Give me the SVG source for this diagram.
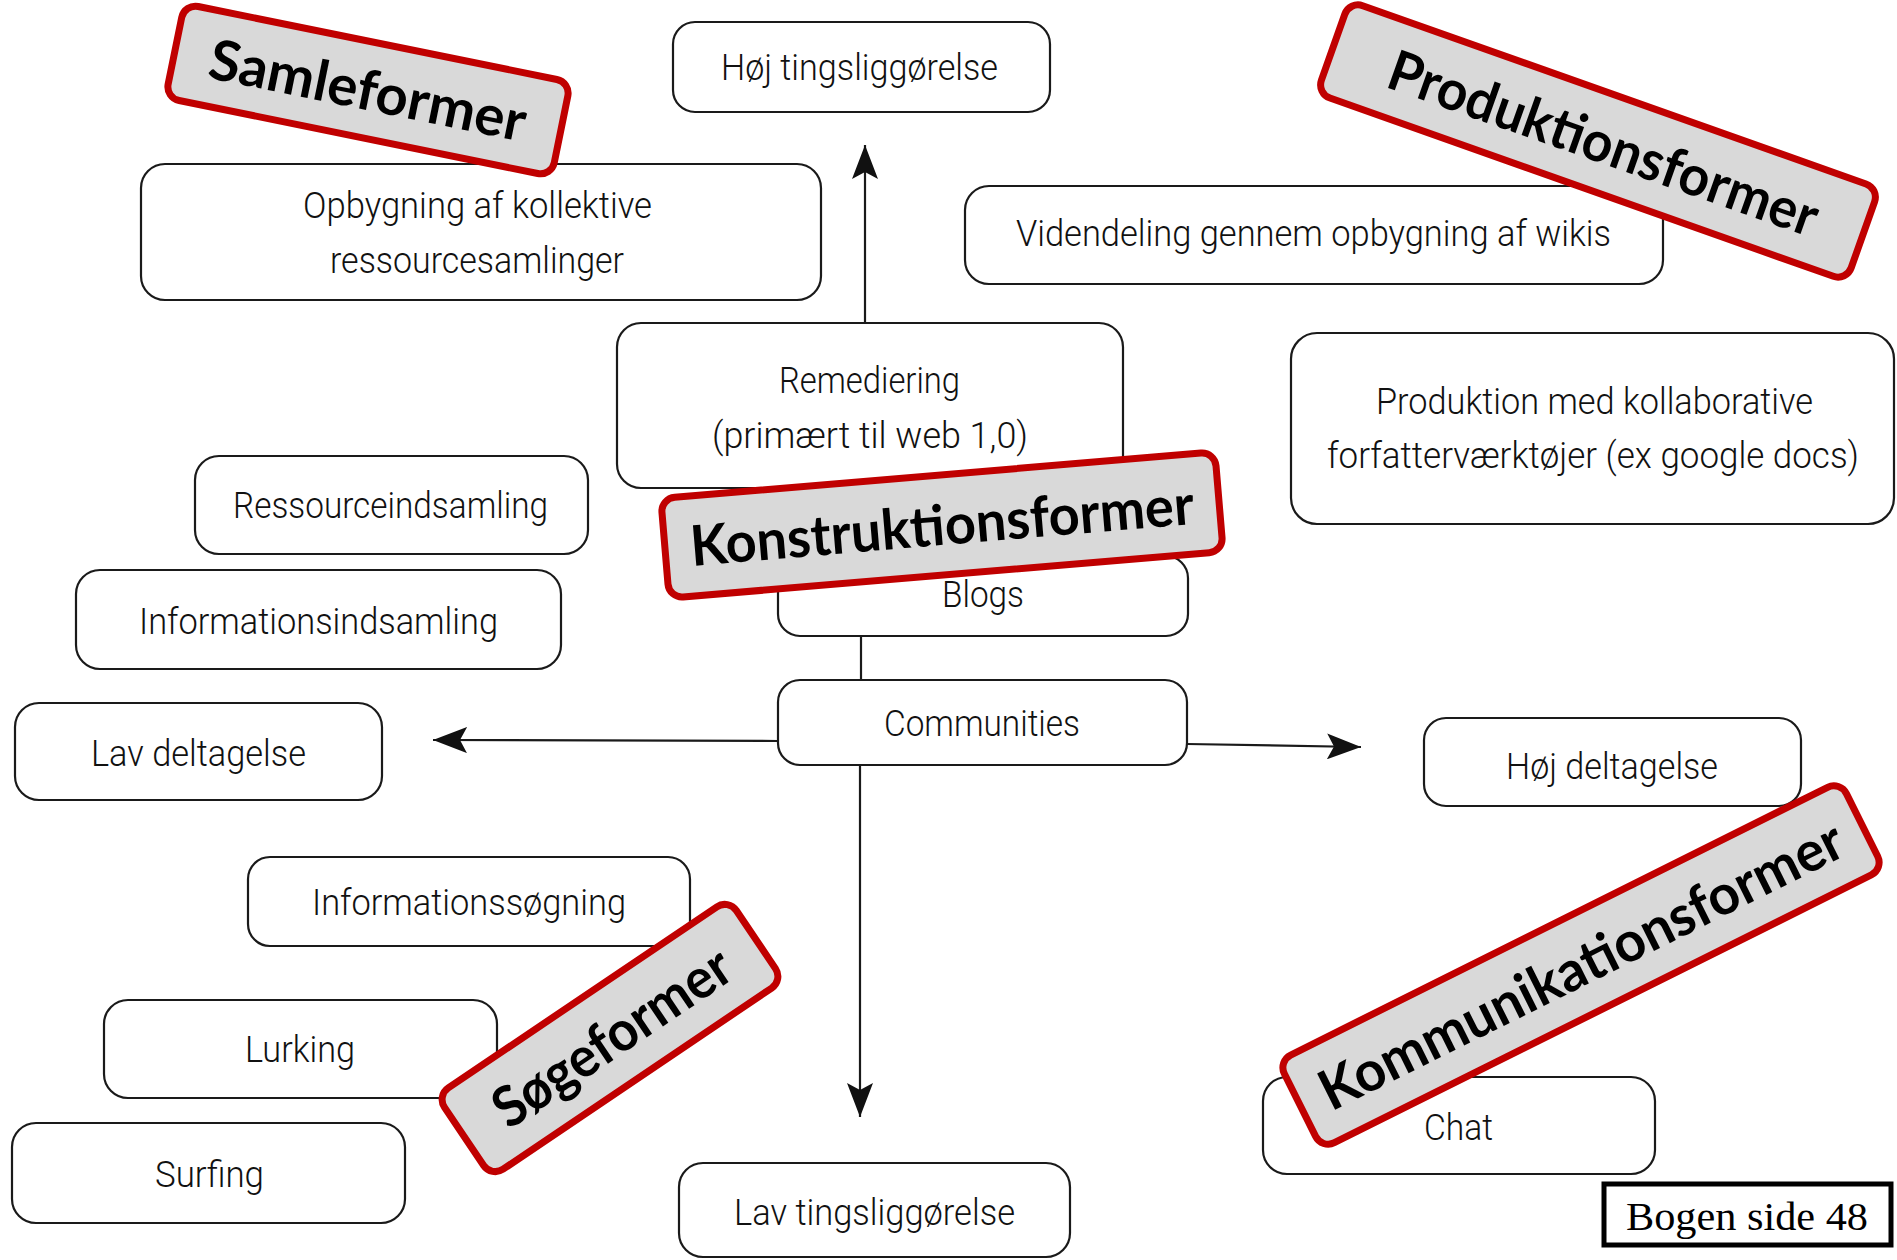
<svg xmlns="http://www.w3.org/2000/svg" width="1897" height="1260" viewBox="0 0 1897 1260">
<defs>
<style>
.node rect{fill:#fff;stroke:#1a1a1a;stroke-width:2.2}
.node text{font-family:Roboto,"DejaVu Sans Condensed","Liberation Sans",sans-serif;font-weight:300;font-size:36px;fill:#111;text-anchor:start}
.conn path{fill:none;stroke:#1a1a1a;stroke-width:2.2}
.badge rect{fill:#d9d9d9;stroke:#c00000;stroke-width:7}
.badge text{font-family:Lato,"Open Sans","Liberation Sans",sans-serif;font-weight:bold;font-size:56px;fill:#000;text-anchor:middle}
</style>
<marker id="arr" markerUnits="userSpaceOnUse" markerWidth="36" markerHeight="26" refX="34" refY="13" orient="auto">
<path d="M0,0 L34,13 L0,26 L7,13 Z" fill="#111"/>
</marker>
</defs>
<rect width="1897" height="1260" fill="#fff"/>

<g id="connectors" class="conn">
<path d="M865,323 L865,145" marker-end="url(#arr)"/>
<path d="M861,636 L861,680"/>
<path d="M860,765 L860,1117" marker-end="url(#arr)"/>
<path d="M778,741 L433,740" marker-end="url(#arr)"/>
<path d="M1187,744 L1361,747" marker-end="url(#arr)"/>
</g>

<g id="n-hoj-ting" class="node"><rect x="673" y="22" width="377" height="90" rx="22"/><text x="721" y="80" textLength="277" lengthAdjust="spacingAndGlyphs">Høj tingsliggørelse</text></g>
<g id="n-opbygning" class="node"><rect x="141" y="164" width="680" height="136" rx="24"/><text x="303" y="218" textLength="349" lengthAdjust="spacingAndGlyphs">Opbygning af kollektive</text><text x="330" y="273" textLength="294" lengthAdjust="spacingAndGlyphs">ressourcesamlinger</text></g>
<g id="n-remediering" class="node"><rect x="617" y="323" width="506" height="165" rx="24"/><text x="779" y="393" textLength="181" lengthAdjust="spacingAndGlyphs">Remediering</text><text x="712" y="448" textLength="316" lengthAdjust="spacingAndGlyphs">(primært til web 1,0)</text></g>
<g id="n-videndeling" class="node"><rect x="965" y="186" width="698" height="98" rx="24"/><text x="1016" y="246" textLength="595" lengthAdjust="spacingAndGlyphs">Videndeling gennem opbygning af wikis</text></g>
<g id="n-produktion" class="node"><rect x="1291" y="333" width="603" height="191" rx="26"/><text x="1376" y="414" textLength="437" lengthAdjust="spacingAndGlyphs">Produktion med kollaborative</text><text x="1327" y="468" textLength="532" lengthAdjust="spacingAndGlyphs">forfatterværktøjer (ex google docs)</text></g>
<g id="n-ressource" class="node"><rect x="195" y="456" width="393" height="98" rx="24"/><text x="233" y="518" textLength="315" lengthAdjust="spacingAndGlyphs">Ressourceindsamling</text></g>
<g id="n-informationsind" class="node"><rect x="76" y="570" width="485" height="99" rx="24"/><text x="139" y="634" textLength="359" lengthAdjust="spacingAndGlyphs">Informationsindsamling</text></g>
<g id="n-lav-delt" class="node"><rect x="15" y="703" width="367" height="97" rx="24"/><text x="91" y="766" textLength="215" lengthAdjust="spacingAndGlyphs">Lav deltagelse</text></g>
<g id="n-blogs" class="node"><rect x="778" y="556" width="410" height="80" rx="22"/><text x="942" y="607" textLength="82" lengthAdjust="spacingAndGlyphs">Blogs</text></g>
<g id="n-communities" class="node"><rect x="778" y="680" width="409" height="85" rx="22"/><text x="884" y="736" textLength="196" lengthAdjust="spacingAndGlyphs">Communities</text></g>
<g id="n-hoj-delt" class="node"><rect x="1424" y="718" width="377" height="88" rx="22"/><text x="1506" y="779" textLength="212" lengthAdjust="spacingAndGlyphs">Høj deltagelse</text></g>
<g id="n-infosog" class="node"><rect x="248" y="857" width="442" height="89" rx="22"/><text x="312" y="915" textLength="314" lengthAdjust="spacingAndGlyphs">Informationssøgning</text></g>
<g id="n-lurking" class="node"><rect x="104" y="1000" width="393" height="98" rx="24"/><text x="245" y="1062" textLength="110" lengthAdjust="spacingAndGlyphs">Lurking</text></g>
<g id="n-surfing" class="node"><rect x="12" y="1123" width="393" height="100" rx="24"/><text x="155" y="1187" textLength="109" lengthAdjust="spacingAndGlyphs">Surfing</text></g>
<g id="n-lav-ting" class="node"><rect x="679" y="1163" width="391" height="94" rx="24"/><text x="734" y="1225" textLength="281" lengthAdjust="spacingAndGlyphs">Lav tingsliggørelse</text></g>
<g id="n-chat" class="node"><rect x="1263" y="1077" width="392" height="97" rx="24"/><text x="1424" y="1140" textLength="69" lengthAdjust="spacingAndGlyphs">Chat</text></g>

<g id="b-samleformer" class="badge" transform="translate(368,90) rotate(11.5)"><rect x="-197" y="-48" width="394" height="96" rx="14"/><text x="0" y="20" textLength="322" lengthAdjust="spacingAndGlyphs">Samleformer</text></g>
<g id="b-produktionsformer" class="badge" transform="translate(1598,141) rotate(19.5)"><rect x="-281" y="-49" width="562" height="98" rx="14"/><text x="6" y="20" textLength="452" lengthAdjust="spacingAndGlyphs">Produktionsformer</text></g>
<g id="b-konstruktionsformer" class="badge" transform="translate(942,525) rotate(-4.8)"><rect x="-278" y="-50" width="556" height="100" rx="14"/><text x="0" y="20" textLength="505" lengthAdjust="spacingAndGlyphs">Konstruktionsformer</text></g>
<g id="b-sogeformer" class="badge" transform="translate(610,1038) rotate(-34)"><rect x="-176" y="-49" width="352" height="98" rx="14"/><text x="2" y="20" textLength="275" lengthAdjust="spacingAndGlyphs">Søgeformer</text></g>
<g id="b-kommunikationsformer" class="badge" transform="translate(1581,965) rotate(-26.5)"><rect x="-314" y="-49" width="628" height="98" rx="14"/><text x="0" y="20" textLength="578" lengthAdjust="spacingAndGlyphs">Kommunikationsformer</text></g>

<g id="n-bogen">
<rect x="1604" y="1184" width="287" height="61" fill="#fff" stroke="#000" stroke-width="5"/>
<text x="1626" y="1230" font-family="'Liberation Serif','Times New Roman',serif" font-size="40" fill="#000" textLength="242" lengthAdjust="spacingAndGlyphs">Bogen side 48</text>
</g>
</svg>
